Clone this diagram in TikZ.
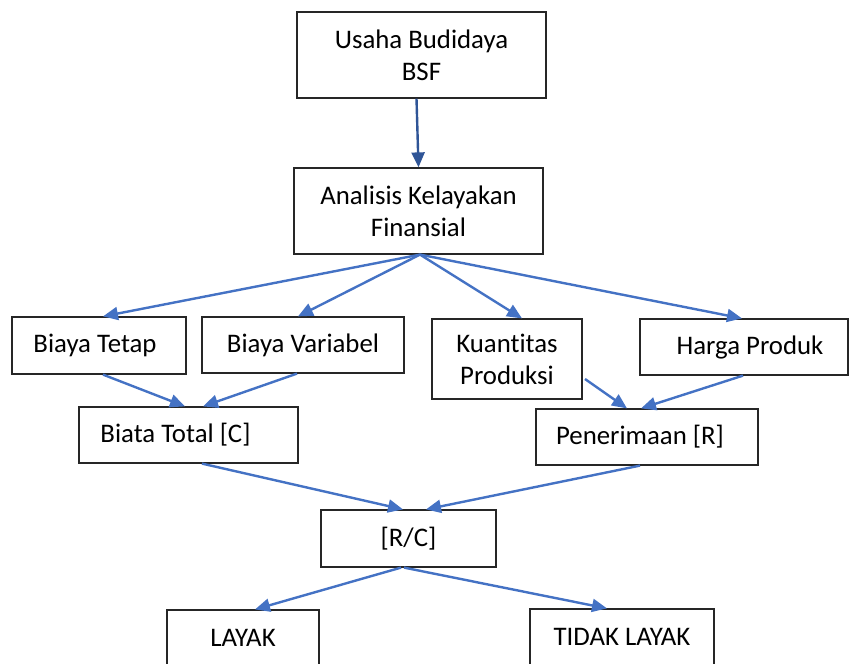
\documentclass[tikz,border=0pt]{standalone}
\usepackage{fontspec}
\setmainfont{Carlito}[Ligatures=NoCommon]
\usetikzlibrary{arrows.meta}
\definecolor{arrblue}{HTML}{4472C4}
\definecolor{arrdark}{HTML}{2F5597}
\begin{document}
\begin{tikzpicture}[x=1pt,y=1pt,
  box/.style={draw=black!85,line width=1.2pt,fill=white,align=center,inner sep=0pt,
    font=\fontsize{26.8}{32}\selectfont},
  conn/.style={draw=arrblue,line width=2.4pt,-{Triangle[length=15pt,width=13pt]}},
  conndark/.style={draw=arrdark,line width=2.4pt,-{Triangle[length=15pt,width=13pt]}}]
\useasboundingbox (0,0) rectangle (850,-663);
\node[box,minimum width=249pt,minimum height=86pt] (usaha) at (421.5,-55) {Usaha Budidaya\\BSF};
\node[box,minimum width=249pt,minimum height=86pt] (ana) at (418.5,-211) {Analisis Kelayakan\\Finansial};
\node[box,minimum width=174pt,minimum height=57pt] (tetap) at (99,-345.5) {Biaya Tetap\hspace{8pt}};
\node[box,minimum width=202pt,minimum height=56pt] (var) at (303,-345) {Biaya Variabel};
\node[box,minimum width=150pt,minimum height=80pt] (kuan) at (507,-359) {Kuantitas\\Produksi};
\node[box,minimum width=208pt,minimum height=56pt] (harga) at (744,-347) {\hspace{12pt}Harga Produk};
\node[box,minimum width=219pt,minimum height=56pt] (total) at (188.5,-435) {Biata Total [C]\hspace{26pt}};
\node[box,minimum width=222pt,minimum height=56pt] (pen) at (647,-437) {Penerimaan [R]\hspace{14pt}};
\node[box,minimum width=175pt,minimum height=57pt] (rc) at (408.5,-538.5) {[R/C]};
\node[box,minimum width=152pt,minimum height=56pt] (layak) at (243,-638) {LAYAK};
\node[box,minimum width=184pt,minimum height=56pt] (tidak) at (622,-637) {TIDAK LAYAK};
\coordinate (kuanout) at (585,-379);

\draw[conndark] ([xshift=-5pt]usaha.south) -- (ana.north);
\draw[conn] ([xshift=1.5pt]ana.south) -- ([xshift=4pt]tetap.north);
\draw[conn] ([xshift=1.5pt]ana.south) -- ([xshift=-5pt]var.north);
\draw[conn] ([xshift=1.5pt]ana.south) -- ([xshift=15pt]kuan.north);
\draw[conn] ([xshift=1.5pt]ana.south) -- ([xshift=-2pt]harga.north);
\draw[conn] ([xshift=4pt]tetap.south) -- ([xshift=-3.5pt]total.north);
\draw[conn] ([xshift=-6pt]var.south) -- ([xshift=14.5pt]total.north);
\draw[conn] (kuanout) -- ([xshift=-20pt]pen.north);
\draw[conn] ([xshift=-1pt]harga.south) -- ([xshift=-6pt]pen.north);
\draw[conn] ([xshift=13.5pt]total.south) -- ([xshift=-5.5pt]rc.north);
\draw[conn] ([xshift=-7pt]pen.south) -- ([xshift=17.5pt]rc.north);
\draw[conn] ([xshift=-7.5pt]rc.south) -- ([xshift=12pt]layak.north);
\draw[conn] ([xshift=-4.5pt]rc.south) -- ([xshift=-15pt]tidak.north);
\end{tikzpicture}
\end{document}
